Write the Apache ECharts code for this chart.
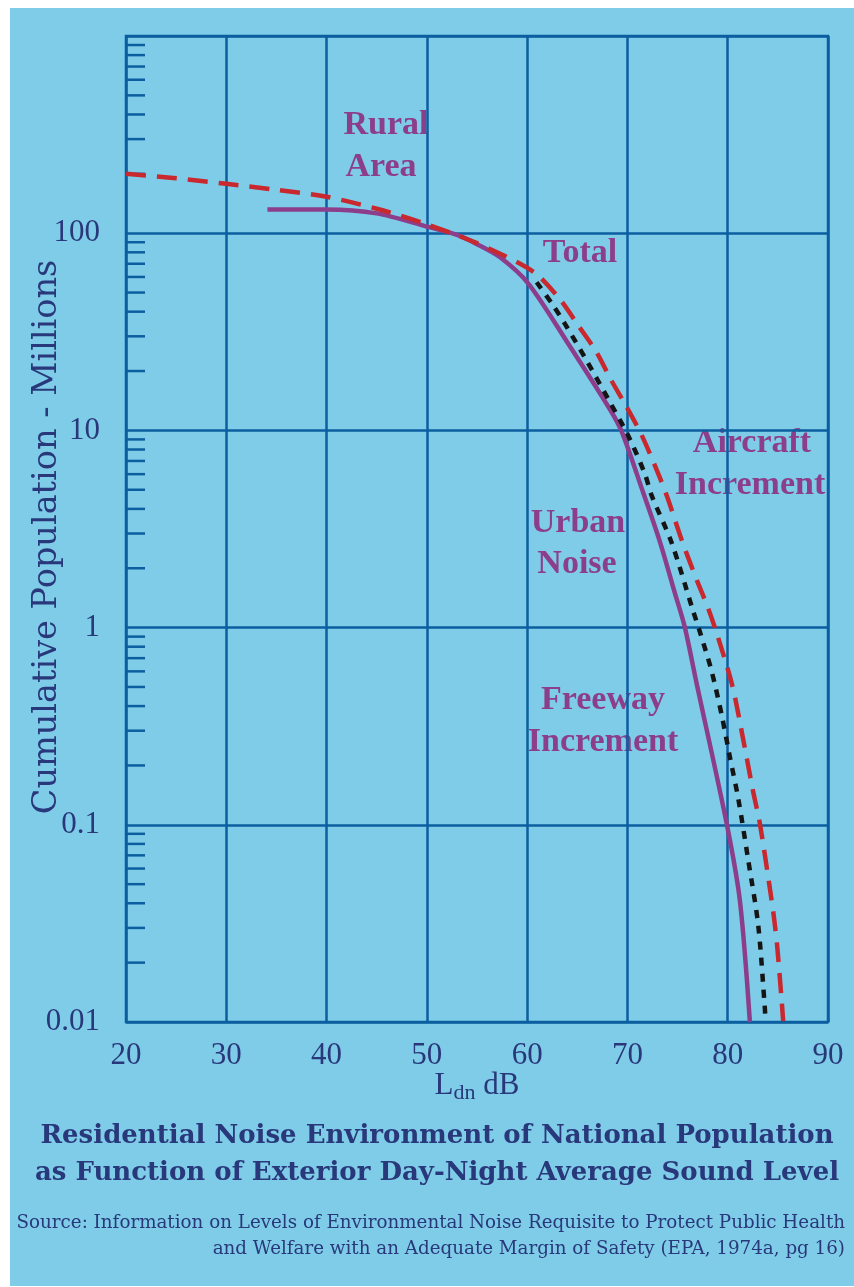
<!DOCTYPE html>
<html>
<head>
<meta charset="utf-8">
<script src="https://cdn.jsdelivr.net/npm/echarts@6/dist/echarts.min.js"></script>
<style>
  body { margin: 0; background: #ffffff; }
  #main { position: absolute; left: 10px; top: 8px; width: 844px; height: 1278px; }
</style>
</head>
<body>
<div id="main"></div>
<script>
// readings: [Ldn dB, cumulative population in millions]
const urbanNoise = [
  [34.1, 132], [40, 132], [45, 126], [50, 108], [53, 98], [55, 88], [57.3, 75.5],
  [60.1, 55.7], [64, 28], [68.25, 12.8], [69.45, 9.8], [71.55, 4.87],
  [73.24, 2.72], [74.74, 1.49], [75.73, 1.0], [76.87, 0.53], [79.92, 0.1],
  [81.22, 0.041], [82.21, 0.01]
]
const freewayTotal = [
  [60.95, 56.4], [62.6, 43], [63.77, 34.7], [65.93, 22.6], [68.09, 14.4],
  [70.08, 9.4], [71.75, 6.0], [72.4, 4.7], [74.4, 2.7], [76.56, 1.21],
  [77.23, 0.95], [78.4, 0.6], [79.4, 0.36], [80.22, 0.22], [81.05, 0.136],
  [82.05, 0.066], [83.04, 0.031], [83.7, 0.0118], [83.75, 0.0105]
]
const aircraftTotal = [
  [20, 200], [25, 190], [30, 178], [35, 166], [40, 153], [45, 133], [50, 111],
  [55, 89], [59.3, 70], [61.1, 61], [63.3, 46], [65.1, 34], [66.9, 25],
  [68.3, 18.3], [69.9, 13.2], [71.4, 9.5], [72.7, 6.7], [73.9, 4.7],
  [75.5, 2.7], [77, 1.7], [78.06, 1.25], [78.95, 0.92], [80.45, 0.51],
  [81.55, 0.27], [82.54, 0.147], [83.2, 0.102], [84.14, 0.05], [84.61, 0.034],
  [84.94, 0.024], [85.37, 0.013], [85.53, 0.0101]
]
const xTicks = [20, 30, 40, 50, 60, 70, 80, 90]
const yLabels = ['0.01', '0.1', '1', '10', '100']
const decades = [0.01, 0.1, 1, 10, 100]
const multiples = [2, 3, 4, 5, 6, 7, 8, 9]

const navy = '#28387a'
const gridBlue = '#0b5e9f'
const purple = '#8c3e8a'
const serif = 'Liberation Serif'
const wideSerif = 'DejaVu Serif'

// 左侧内刻度 (2..9)
let minorTicks = []
decades.forEach(d => multiples.forEach(m => minorTicks.push([xTicks[0], +(d * m).toPrecision(3)])))

const chart = echarts.init(document.getElementById('main'))

function label(text, x, y) {
  return {
    type: 'text', x: x, y: y,
    style: {
      text: text, fill: purple, font: 'bold 34px "' + serif + '"',
      textAlign: 'center', textVerticalAlign: 'middle'
    }
  }
}

function note(text, x, y, font, align) {
  return {
    type: 'text', x: x, y: y,
    style: { text: text, fill: navy, font: font, textAlign: align, textVerticalAlign: 'middle' }
  }
}

const option = {
  backgroundColor: '#7fcce8',
  animation: false,
  grid: {
    left: 116, top: 28, width: 702, height: 986,
    outerBoundsMode: 'none',
    show: true, borderColor: gridBlue, borderWidth: 2.5, backgroundColor: 'transparent'
  },
  xAxis: {
    type: 'value', min: 20, max: 90, interval: 10,
    axisLine: { show: false },
    axisTick: { show: false },
    axisLabel: { color: navy, fontFamily: serif, fontSize: 31, margin: 18 },
    splitLine: { lineStyle: { color: gridBlue, width: 2.5 } },
    name: 'L{sub|dn} dB',
    nameLocation: 'middle',
    nameGap: 46,
    nameMoveOverlap: false,
    nameTextStyle: {
      color: navy, fontFamily: serif, fontSize: 31,
      rich: { sub: { color: navy, fontFamily: serif, fontSize: 22, verticalAlign: 'bottom', padding: [14, 0, 0, 0] } }
    }
  },
  yAxis: {
    type: 'log', logBase: 10, min: 0.01, max: 1000,
    axisLine: { show: false },
    axisTick: { show: false },
    axisLabel: {
      color: navy, fontFamily: serif, fontSize: 31, margin: 26,
      formatter: v => {
        const s = yLabels.find(l => Math.abs(Number(l) - v) < v * 1e-6)
        return s || ''
      }
    },
    splitLine: { lineStyle: { color: gridBlue, width: 2.5 } },
    name: 'Cumulative Population - Millions',
    nameLocation: 'middle',
    nameRotate: 90,
    nameGap: 62,
    nameMoveOverlap: false,
    nameTextStyle: { color: navy, fontFamily: wideSerif, fontSize: 33.5, padding: [0, 16, 0, 0] }
  },
  series: [
    {
      type: 'custom',
      data: minorTicks,
      silent: true,
      renderItem: (params, api) => {
        const p = api.coord([api.value(0), api.value(1)])
        return {
          type: 'line',
          shape: { x1: p[0], y1: p[1], x2: p[0] + 19, y2: p[1] },
          style: { stroke: gridBlue, lineWidth: 2.5 }
        }
      }
    },
    {
      name: 'Urban Noise', type: 'line', data: urbanNoise,
      smooth: 0.3, showSymbol: false,
      lineStyle: { color: purple, width: 4.5 }
    },
    {
      name: 'Freeway Increment', type: 'line', data: freewayTotal,
      smooth: 0.3, showSymbol: false,
      lineStyle: { color: '#151515', width: 4.5, type: [8, 8] }
    },
    {
      name: 'Aircraft Increment', type: 'line', data: aircraftTotal,
      smooth: 0.3, showSymbol: false,
      lineStyle: { color: '#c8282e', width: 4.5, type: [20, 11] }
    }
  ],
  graphic: [
    label('Rural', 376, 117),
    label('Area', 371, 159),
    label('Total', 570, 245),
    label('Aircraft', 742, 435),
    label('Increment', 740, 477),
    label('Urban', 568, 515),
    label('Noise', 567, 556),
    label('Freeway', 593, 692),
    label('Increment', 593, 734),
    note('Residential Noise Environment of National Population', 427, 1128, 'bold 26px "' + wideSerif + '"', 'center'),
    note('as Function of Exterior Day-Night Average Sound Level', 427, 1165, 'bold 26px "' + wideSerif + '"', 'center'),
    note('Source: Information on Levels of Environmental Noise Requisite to Protect Public Health', 835, 1215, '18.3px "' + wideSerif + '"', 'right'),
    note('and Welfare with an Adequate Margin of Safety (EPA, 1974a, pg 16)', 835, 1241, '18.3px "' + wideSerif + '"', 'right')
  ]
}

chart.setOption(option)
</script>
</body>
</html>
